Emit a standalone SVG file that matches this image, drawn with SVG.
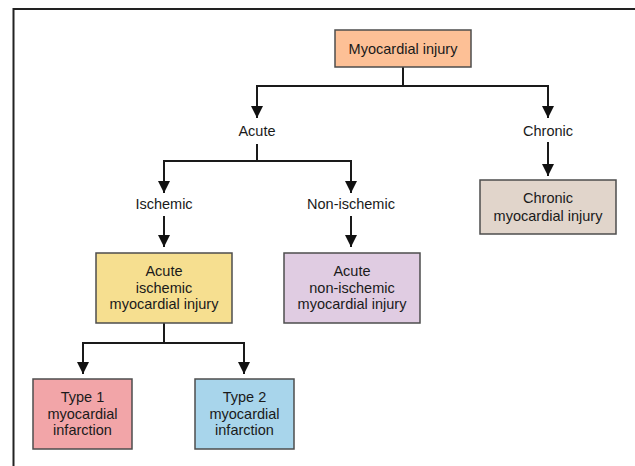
<svg xmlns="http://www.w3.org/2000/svg" width="635" height="466" viewBox="0 0 635 466">
<style>
.box{stroke:#4d4d4d;stroke-width:1.5}
.t{font-family:"Liberation Sans",Arial,sans-serif;font-size:14.5px;fill:#1a1a1a;text-anchor:middle}
.c{fill:none;stroke:#1a1a1a;stroke-width:2}
</style>
<defs>
<marker id="ah" viewBox="0 0 12 12" refX="12" refY="6" markerWidth="12" markerHeight="12" markerUnits="userSpaceOnUse" orient="auto">
<path d="M0,0 L12,6 L0,12 Z" fill="#111"/>
</marker>
</defs>
<rect width="635" height="466" fill="#fff"/>
<path d="M13.5,466 V9 H635" fill="none" stroke="#222" stroke-width="2"/>
<g id="connectors">
<path class="c" d="M403,67 V86 H257 V118" marker-end="url(#ah)"/>
<path class="c" d="M403,86 H548 V118" marker-end="url(#ah)"/>
<path class="c" d="M257,144 V161 H164 V193" marker-end="url(#ah)"/>
<path class="c" d="M257,161 H351 V193" marker-end="url(#ah)"/>
<path class="c" d="M548,142 V176" marker-end="url(#ah)"/>
<path class="c" d="M164,216 V247" marker-end="url(#ah)"/>
<path class="c" d="M351,216 V247" marker-end="url(#ah)"/>
<path class="c" d="M164,323 V343 H83 V374" marker-end="url(#ah)"/>
<path class="c" d="M164,343 H244 V374" marker-end="url(#ah)"/>
</g>
<g id="myocardial-injury">
<rect class="box" x="335" y="30" width="136" height="37" fill="#FDC096"/>
<text class="t" x="403" y="54">Myocardial injury</text>
</g>
<g id="acute"><text class="t" x="257" y="136">Acute</text></g>
<g id="chronic"><text class="t" x="548" y="136">Chronic</text></g>
<g id="ischemic"><text class="t" x="164" y="209">Ischemic</text></g>
<g id="non-ischemic"><text class="t" x="351" y="209">Non-ischemic</text></g>
<g id="chronic-myocardial-injury">
<rect class="box" x="480" y="180" width="136" height="54" fill="#E1D5CB"/>
<text class="t" x="548" y="203">Chronic</text>
<text class="t" x="548" y="221">myocardial injury</text>
</g>
<g id="acute-ischemic">
<rect class="box" x="96" y="253" width="136" height="70" fill="#F6DF90"/>
<text class="t" x="164" y="276">Acute</text>
<text class="t" x="164" y="293">ischemic</text>
<text class="t" x="164" y="309">myocardial injury</text>
</g>
<g id="acute-non-ischemic">
<rect class="box" x="284" y="253" width="136" height="70" fill="#E0CCE2"/>
<text class="t" x="352" y="276">Acute</text>
<text class="t" x="352" y="293">non-ischemic</text>
<text class="t" x="352" y="309">myocardial injury</text>
</g>
<g id="type1">
<rect class="box" x="33" y="379" width="99" height="70" fill="#F2A5A8"/>
<text class="t" x="82.5" y="402">Type 1</text>
<text class="t" x="82.5" y="419">myocardial</text>
<text class="t" x="82.5" y="435">infarction</text>
</g>
<g id="type2">
<rect class="box" x="195" y="379" width="99" height="70" fill="#A8D5EB"/>
<text class="t" x="244.5" y="402">Type 2</text>
<text class="t" x="244.5" y="419">myocardial</text>
<text class="t" x="244.5" y="435">infarction</text>
</g>
</svg>
